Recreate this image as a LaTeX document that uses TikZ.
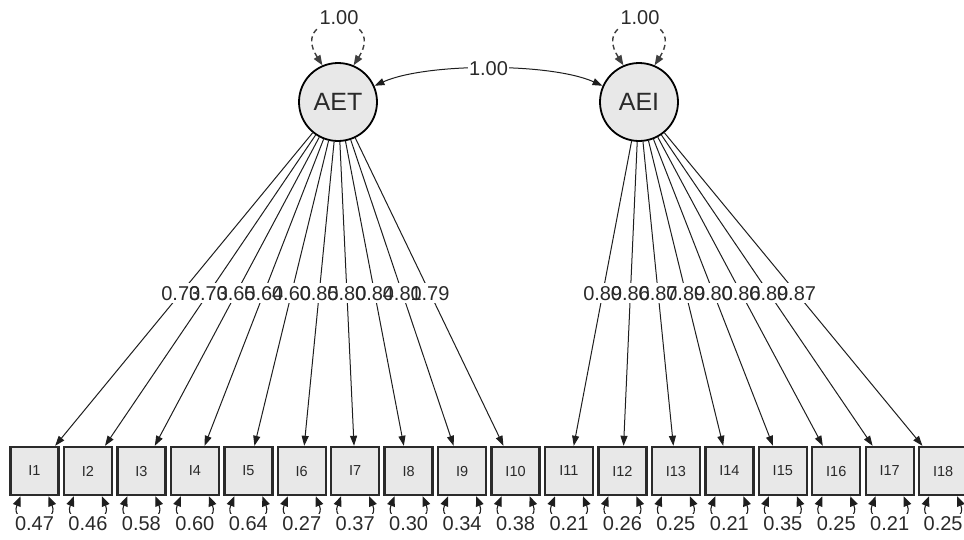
\documentclass[tikz,border=0pt]{standalone}
\usepackage{fontspec}
\setmainfont{Liberation Sans}
\usetikzlibrary{arrows.meta,calc}
\definecolor{boxfill}{HTML}{E8E8E8}
\definecolor{latfill}{HTML}{E8E8E8}
\definecolor{boxline}{HTML}{2B2B2B}
\definecolor{txt}{HTML}{2A2A2A}
\definecolor{edgecol}{HTML}{1E1E1E}
\begin{document}
\begin{tikzpicture}[x=1pt,y=-1pt,
  lat/.style={circle,draw=black,line width=1.8pt,fill=latfill,minimum size=78pt,inner sep=0pt,text=txt,font=\fontsize{25}{25}\selectfont},
  man/.style={rectangle,draw=boxline,line width=2.4pt,fill=boxfill,minimum size=48pt,inner sep=0pt,text=txt,font=\fontsize{14.5}{14.5}\selectfont},
  tipA/.style={-{Triangle[length=10pt,width=7pt]}},
  loadedge/.style={draw=edgecol,line width=1pt,tipA},
  resid/.style={draw=edgecol,line width=1.1pt,{Triangle[length=10pt,width=8pt]}-{Triangle[length=10pt,width=8pt]}},
  vloop/.style={draw=edgecol!85,line width=1.4pt,dash pattern=on 5pt off 3.5pt,{Triangle[length=10pt,width=7.5pt]}-{Triangle[length=10pt,width=7.5pt]}},
  cov/.style={draw=edgecol,line width=1pt,{Triangle[length=10pt,width=7pt]}-{Triangle[length=10pt,width=7pt]}},
  numbg/.style={fill=white,inner xsep=1pt,inner ysep=3pt,font=\fontsize{20}{20}\selectfont},
  numtxt/.style={inner xsep=1pt,inner ysep=3pt,text=txt,font=\fontsize{20}{20}\selectfont}
]
\useasboundingbox (0,0) rectangle (964,539);
\clip (0,0) rectangle (964,539);
% manifest boxes
\foreach \i in {1,...,18} {
  \node[man] (I\i) at ({34.5+53.45*(\i-1)},471) {I\i};
}
% latents
\node[lat] (AET) at (338,102) {AET};
\node[lat] (AEI) at (639,102) {AEI};
% loadings
\foreach \i in {1,...,10} { \draw[loadedge] (AET) -- (I\i); }
\foreach \i in {11,...,18} { \draw[loadedge] (AEI) -- (I\i); }
% label backgrounds
\foreach \i/\v in {1/0.73,2/0.73,3/0.65,4/0.64,5/0.60,6/0.85,7/0.80,8/0.84,9/0.81,10/0.79} {
  \node[numbg] (bgl\i) at ($(AET)!0.518!(I\i)$) {\phantom{\v}};
}
\foreach \i/\v in {11/0.89,12/0.86,13/0.87,14/0.89,15/0.80,16/0.86,17/0.89,18/0.87} {
  \node[numbg] (bgl\i) at ($(AEI)!0.518!(I\i)$) {\phantom{\v}};
}
% label texts
\foreach \i/\v in {1/0.73,2/0.73,3/0.65,4/0.64,5/0.60,6/0.85,7/0.80,8/0.84,9/0.81,10/0.79} {
  \node[numtxt] (ll\i) at ($(AET)!0.518!(I\i)$) {\v};
}
\foreach \i/\v in {11/0.89,12/0.86,13/0.87,14/0.89,15/0.80,16/0.86,17/0.89,18/0.87} {
  \node[numtxt] (ll\i) at ($(AEI)!0.518!(I\i)$) {\v};
}
% residual loops
\foreach \i/\v in {1/0.47,2/0.46,3/0.58,4/0.60,5/0.64,6/0.27,7/0.37,8/0.30,9/0.34,10/0.38,11/0.21,12/0.26,13/0.25,14/0.21,15/0.35,16/0.25,17/0.21,18/0.25} {
  \draw[resid] ($(I\i.south)+(-14,0)$) .. controls +(-12,30) and +(12,30) .. ($(I\i.south)+(14,0)$);
  \node[numbg,text=txt] (rl\i) at ($(I\i.center)+(0,53)$) {\v};
}
% variance loops
\draw[vloop] (AET.113) .. controls +(-35,-55) and +(35,-55) .. (AET.67);
\node[numbg,text=txt] (vAET) at (339,18) {1.00};
\draw[vloop] (AEI.113) .. controls +(-35,-55) and +(35,-55) .. (AEI.67);
\node[numbg,text=txt] (vAEI) at (640,18) {1.00};
% covariance
\draw[cov] (AET) to[bend left=24,looseness=0.64] node[numbg,text=txt] (cAE) {1.00} (AEI);
\end{tikzpicture}
\end{document}
